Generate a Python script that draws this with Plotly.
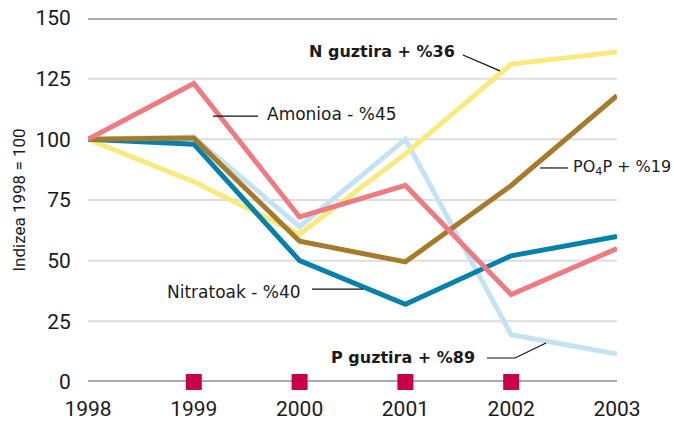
import plotly.graph_objects as go

years = [1998, 1999, 2000, 2001, 2002, 2003]
n_guztira = [100, 82.5, 61, 94, 131, 136]
p_guztira = [100, 101, 64, 100, 19.5, 11.5]
amonioa = [100, 123, 68, 81, 36, 55]
nitratoak = [100, 98, 50, 32, 52, 60]
po4p = [100, 100.5, 58, 49.5, 81, 118]
marker_years = [1999, 2000, 2001, 2002]
marker_vals = [0, 0, 0, 0]
y_ticks = [0, 25, 50, 75, 100, 125, 150]

FONT = "Roboto"
LFONT = "DejaVu Sans"
fig = go.Figure()
series = [
    (p_guztira, "#C3E3F5"),
    (n_guztira, "#F8EA7C"),
    (nitratoak, "#0581AC"),
    (po4p, "#A57A2B"),
    (amonioa, "#EE7A82"),
]
for vals, col in series:
    fig.add_trace(go.Scatter(x=years, y=vals, mode="lines",
                             line=dict(color=col, width=5), hoverinfo="skip",
                             showlegend=False, cliponaxis=False))

# grid lines
for v in y_ticks:
    thick = v in (0, 150)
    fig.add_shape(type="line", xref="x", yref="y", x0=1998, x1=2003, y0=v, y1=v,
                  line=dict(color="#A9AAAC" if thick else "#DDDDDD", width=4 if thick else 2),
                  layer="below")

fig.add_trace(go.Scatter(x=marker_years, y=marker_vals, mode="markers",
                         marker=dict(symbol="square", size=16, color="#C8004B"),
                         showlegend=False, hoverinfo="skip", cliponaxis=False))

ann = [
    (2001.49, 136, "<b>N guztira + %36</b>", "right", 16),
    (1999.673, 110.4, "Amonioa - %45", "left", 17),
    (2002.565, 88.2, "PO<sub>4</sub>P + %19", "left", 16),
    (2000.032, 37.1, "Nitratoak - %40", "right", 17),
    (2001.677, 9.9, "<b>P guztira + %89</b>", "right", 16),
]
for x, y, t, xa, fs in ann:
    fig.add_annotation(x=x, y=y, text=t, showarrow=False, xanchor=xa, yanchor="middle",
                       font=dict(family=LFONT, size=fs, color="#1a1a1a"))

leaders = [
    [(2001.544, 134.75), (2001.894, 128.2)],
    [(1999.18, 109.6), (1999.607, 109.6)],
    [(2002.272, 88.2), (2002.537, 88.2)],
    [(2000.117, 38.3), (2000.6, 38.3)],
    [(2001.771, 9.9), (2002.036, 9.9), (2002.329, 16.07)],
]
for pts in leaders:
    path = "M " + " L ".join(f"{a},{b}" for a, b in pts)
    fig.add_shape(type="path", xref="x", yref="y", path=path,
                  line=dict(color="#111111", width=1.2))

fig.update_layout(
    width=674, height=421,
    margin=dict(l=88, r=57, t=18, b=39),
    plot_bgcolor="white", paper_bgcolor="white",
    font=dict(family=FONT, size=17, color="#1a1a1a"),
    xaxis=dict(range=[1998, 2003], tickvals=years, showgrid=False, zeroline=False,
               ticks="outside", ticklen=8, tickcolor="rgba(0,0,0,0)",
               tickfont=dict(family=FONT, size=21), showline=False, automargin=False),
    yaxis=dict(range=[0, 150], tickvals=y_ticks, showgrid=False, zeroline=False,
               ticks="outside", ticklen=12, tickcolor="rgba(0,0,0,0)",
               tickfont=dict(family=FONT, size=21), automargin=False,
               title=dict(text="Indizea 1998 = 100",
                          font=dict(family=FONT, size=17, color="#1a1a1a"), standoff=5)),
)
fig.write_html("out.html", config={"displayModeBar": False},
               post_script="document.body.style.margin='0';document.body.style.overflow='hidden';")
